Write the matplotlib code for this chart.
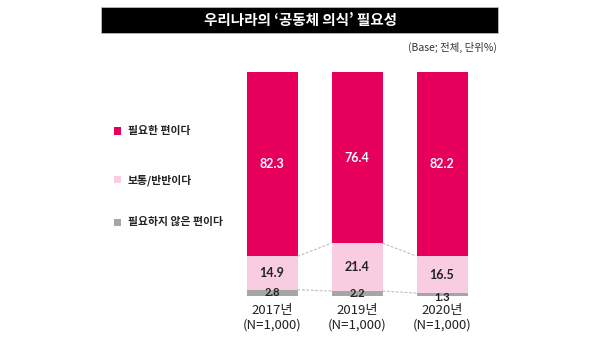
import matplotlib.pyplot as plt
from matplotlib.patches import Rectangle

plt.rcParams['font.family'] = ['Noto Sans CJK KR', 'DejaVu Sans']

# 데이터
years = ["2017년", "2019년", "2020년"]
sample = ["(N=1,000)", "(N=1,000)", "(N=1,000)"]
need = [82.3, 76.4, 82.2]          # 필요한 편이다
neutral = [14.9, 21.4, 16.5]       # 보통/반반이다
no_need = [2.8, 2.2, 1.3]          # 필요하지 않은 편이다
series_names = ["필요한 편이다", "보통/반반이다", "필요하지 않은 편이다"]

C_NEED = "#E6005C"
C_NEUT = "#F9CDE1"
C_NO = "#A6A6A6"
C_DASH = "#BDBDBD"

fig = plt.figure(figsize=(6, 3.57), dpi=100)
W, H = 600, 357

# 제목 띠
band = Rectangle((101 / W, 1 - 33 / H), 397 / W, 26 / H, transform=fig.transFigure,
                 facecolor="black", edgecolor="#BBBBBB", linewidth=0.6)
fig.patches.append(band)
fig.text(300 / W, 1 - 20 / H, "우리나라의 ‘공동체 의식’ 필요성", color="white",
         fontsize=10.5, fontweight="bold", ha="center", va="center")
fig.text(497 / W, 1 - 47 / H, "(Base; 전체, 단위%)", fontsize=7.5, color="#333333",
         ha="right", va="center")

# 막대 영역: y 72~296px
ax = fig.add_axes([0, 1 - 296 / H, 1, 224 / H])
ax.set_xlim(-272 / 85, 2 + (600 - 442) / 85)
ax.set_ylim(0, 100)
ax.axis("off")

x = list(range(len(years)))
bw = 0.6
ax.bar(x, no_need, width=bw, color=C_NO)
base2 = no_need
ax.bar(x, neutral, width=bw, bottom=base2, color=C_NEUT)
base3 = [a + b for a, b in zip(no_need, neutral)]
ax.bar(x, need, width=bw, bottom=base3, color=C_NEED)

# 점선 연결
for i in range(len(x) - 1):
    xs = [x[i] + bw / 2, x[i + 1] - bw / 2]
    for lv in (0, no_need, base3):
        y0 = 0 if lv == 0 else lv[i]
        y1 = 0 if lv == 0 else lv[i + 1]
        ax.plot(xs, [y0, y1], color=C_DASH, linestyle=(0, (2.5, 1.5)), linewidth=0.8)

# 값 표시
num_font = dict(fontsize=9, fontweight="bold", family=["Lato", "DejaVu Sans"])
for i in x:
    ax.text(i, base3[i] + need[i] / 2, f"{need[i]}", color="white", ha="center",
            va="center", **num_font)
    ax.text(i, no_need[i] + neutral[i] / 2, f"{neutral[i]}", color="#222222",
            ha="center", va="center", **num_font)
    yg = no_need[i] / 2 if no_need[i] > 2 else -0.5
    ax.text(i, yg, f"{no_need[i]}", color="#222222", ha="center", va="center",
            fontsize=8, fontweight="bold", family=["Lato", "DejaVu Sans"])
    ax.text(i, -6.5, years[i], ha="center", va="center", fontsize=9.5, color="#222222")
    ax.text(i, -12.8, sample[i], ha="center", va="center", fontsize=9.5, color="#222222")

# 범례
for name, col, yp in zip(series_names, [C_NEED, C_NEUT, C_NO], [131, 180, 222]):
    fig.patches.append(Rectangle((113.5 / W, 1 - (yp + 3.5) / H), 7 / W, 7 / H,
                                 transform=fig.transFigure, facecolor=col, edgecolor="none"))
    fig.text(128 / W, 1 - yp / H, name, fontsize=7.8, fontweight="bold",
             ha="left", va="center", color="#222222")

fig.savefig("out.png", dpi=100)
